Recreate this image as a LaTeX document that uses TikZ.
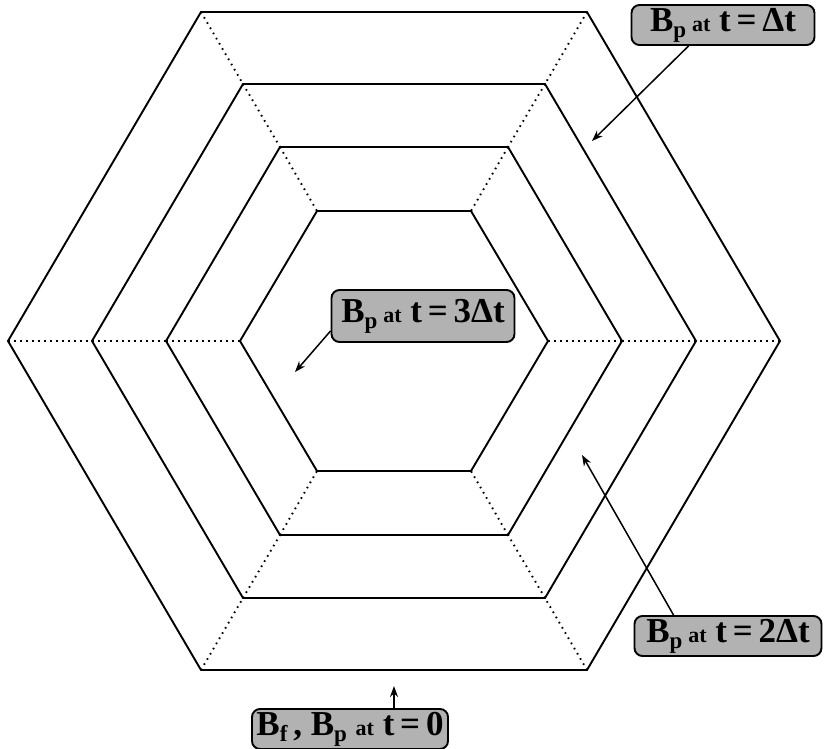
\documentclass[tikz,border=0pt]{standalone}
\usepackage{fontspec}
\setmainfont{Liberation Serif}
\usetikzlibrary{arrows.meta}
\newcommand\smallp{\raisebox{-6pt}{\fontsize{23}{23}\selectfont p}}
\newcommand\smallf{\raisebox{-6pt}{\fontsize{23}{23}\selectfont f}}
\newcommand\smallat{{\fontsize{22}{22}\selectfont at}}
\begin{document}
\begin{tikzpicture}[x=1pt,y=-1pt,
  hex/.style={line width=1.9pt, line join=miter},
  radial/.style={line width=1.9pt, dash pattern=on 1.6pt off 4.4pt},
  lab/.style={draw, line width=1.9pt, rounded corners=8pt, fill=black!30,
    font=\fontsize{35}{38}\selectfont\bfseries, inner sep=1pt},
  arr/.style={line width=1.5pt, -{Stealth[length=11pt,width=8pt]}}]
\useasboundingbox (0,0) rectangle (825,749);
% hexagons
\foreach \i/\w/\h in {1/386/329, 2/302/257, 3/228/194, 4/154/130} {
  \coordinate (r\i-0) at (394+\w,341);
  \coordinate (r\i-1) at (394+\w/2,341-\h);
  \coordinate (r\i-2) at (394-\w/2,341-\h);
  \coordinate (r\i-3) at (394-\w,341);
  \coordinate (r\i-4) at (394-\w/2,341+\h);
  \coordinate (r\i-5) at (394+\w/2,341+\h);
  \draw[hex] (r\i-0) -- (r\i-1) -- (r\i-2) -- (r\i-3) -- (r\i-4) -- (r\i-5) -- cycle;
}
% radial dotted lines
\foreach \i/\j in {1/2,2/3,3/4}
  \foreach \k in {0,...,5}
    \draw[radial] (r\i-\k) -- (r\j-\k);
% labels
\node[lab, minimum width=183pt, minimum height=40pt] (l1) at (723,25)
  {B\smallp\,\smallat\ t\,=\,Δt};
\node[lab, minimum width=183pt, minimum height=52pt] (l3) at (423,316)
  {B\smallp\,\smallat\ t\,=\,3Δt};
\node[lab, minimum width=187pt, minimum height=40pt] (l2) at (728,636)
  {B\smallp\,\smallat\ t\,=\,2Δt};
\node[lab, minimum width=196pt, minimum height=40pt] (l0) at (350,729)
  {B\smallf\,, B\smallp\ \smallat\ t\,=\,0};
% arrow targets
\coordinate (t1) at (592,141);
\coordinate (t3) at (295,372);
\coordinate (t2) at (582,455);
\coordinate (t0) at (394,686);
\draw[arr] ([xshift=58pt]l1.south west) -- (t1);
\draw[arr] ([yshift=12pt]l3.south west) -- (t3);
\draw[arr] ([xshift=40pt]l2.north west) -- (t2);
\draw[arr] (l0.north -| t0) -- (t0);
\end{tikzpicture}
\end{document}
